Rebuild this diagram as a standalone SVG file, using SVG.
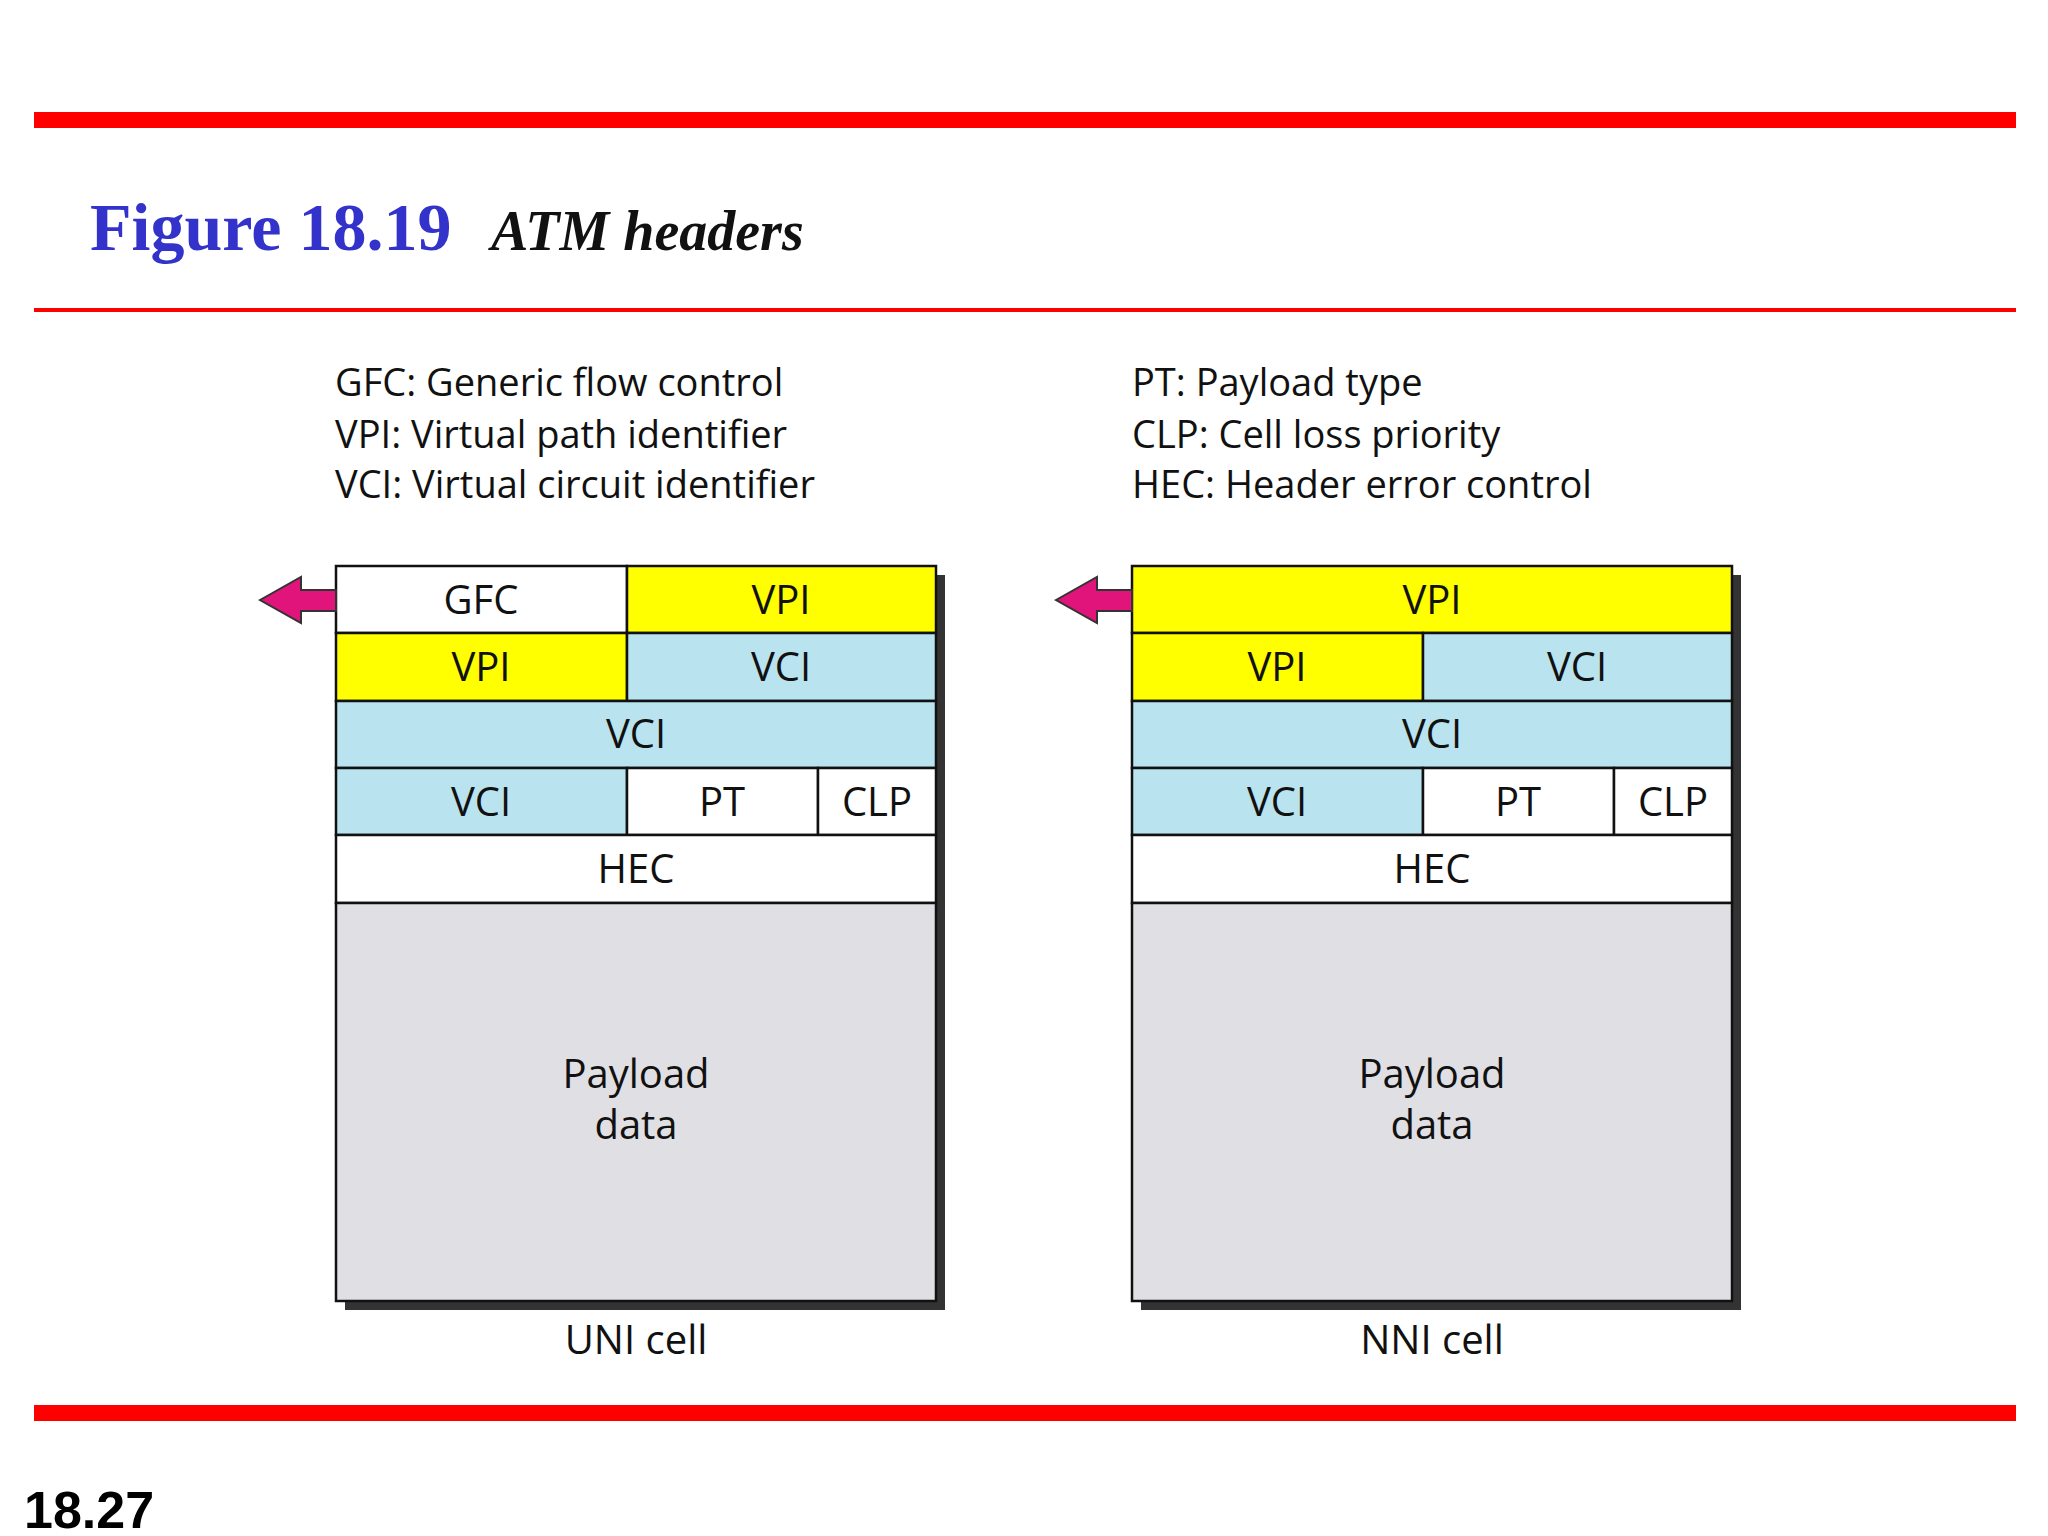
<svg xmlns="http://www.w3.org/2000/svg" width="2048" height="1536" viewBox="0 0 2048 1536">
<style>
.c{stroke:#111;stroke-width:2.5}
.w{fill:#fff}.y{fill:#ffff00}.b{fill:#b9e3ef}.g{fill:#e0dfe3}
.t{font-family:"Open Sans","Liberation Sans",sans-serif;font-size:40px;fill:#111;text-anchor:middle}
.l{font-family:"Open Sans","Liberation Sans",sans-serif;font-size:38px;fill:#111}
.ar{fill:#e0147a;stroke:#333;stroke-width:2}
</style>
<rect width="2048" height="1536" fill="#fff"/>
<rect x="34" y="112" width="1982" height="16" fill="#ff0000"/>
<rect x="34" y="308" width="1982" height="4" fill="#ff0000"/>
<rect x="34" y="1405" width="1982" height="16" fill="#ff0000"/>
<text x="90" y="250" font-family="Liberation Serif,serif" font-weight="bold" font-size="68" fill="#3333cc">Figure 18.19</text>
<text x="491" y="250" font-family="Liberation Serif,serif" font-weight="bold" font-style="italic" font-size="56" fill="#111">ATM headers</text>
<text x="24" y="1528" font-family="Liberation Sans,sans-serif" font-weight="bold" font-size="52" fill="#000">18.27</text>
<g id="legend-left" class="l"><text x="335" y="396">GFC: Generic flow control</text><text x="335" y="448">VPI: Virtual path identifier</text><text x="335" y="498">VCI: Virtual circuit identifier</text></g>
<g id="legend-right" class="l"><text x="1132" y="396">PT: Payload type</text><text x="1132" y="448">CLP: Cell loss priority</text><text x="1132" y="498">HEC: Header error control</text></g>
<g id="uni">
<rect x="345" y="575" width="600" height="735" fill="#333"/>
<rect class="c w" x="336" y="566" width="291" height="67"/><text class="t" x="481" y="614">GFC</text>
<rect class="c y" x="627" y="566" width="309" height="67"/><text class="t" x="781" y="614">VPI</text>
<rect class="c y" x="336" y="633" width="291" height="68"/><text class="t" x="481" y="681">VPI</text>
<rect class="c b" x="627" y="633" width="309" height="68"/><text class="t" x="781" y="681">VCI</text>
<rect class="c b" x="336" y="701" width="600" height="67"/><text class="t" x="636" y="748">VCI</text>
<rect class="c b" x="336" y="768" width="291" height="67"/><text class="t" x="481" y="816">VCI</text>
<rect class="c w" x="627" y="768" width="191" height="67"/><text class="t" x="722" y="816">PT</text>
<rect class="c w" x="818" y="768" width="118" height="67"/><text class="t" x="877" y="816">CLP</text>
<rect class="c w" x="336" y="835" width="600" height="68"/><text class="t" x="636" y="883">HEC</text>
<rect class="c g" x="336" y="903" width="600" height="398"/><text class="t" x="636" y="1088">Payload</text><text class="t" x="636" y="1139">data</text>
<text class="t" x="636" y="1354">UNI cell</text>
<polygon class="ar" points="260,600 301,577 301,590 336,590 336,611 301,611 301,623"/>
</g>
<g id="nni">
<rect x="1141" y="575" width="600" height="735" fill="#333"/>
<rect class="c y" x="1132" y="566" width="600" height="67"/><text class="t" x="1432" y="614">VPI</text>
<rect class="c y" x="1132" y="633" width="291" height="68"/><text class="t" x="1277" y="681">VPI</text>
<rect class="c b" x="1423" y="633" width="309" height="68"/><text class="t" x="1577" y="681">VCI</text>
<rect class="c b" x="1132" y="701" width="600" height="67"/><text class="t" x="1432" y="748">VCI</text>
<rect class="c b" x="1132" y="768" width="291" height="67"/><text class="t" x="1277" y="816">VCI</text>
<rect class="c w" x="1423" y="768" width="191" height="67"/><text class="t" x="1518" y="816">PT</text>
<rect class="c w" x="1614" y="768" width="118" height="67"/><text class="t" x="1673" y="816">CLP</text>
<rect class="c w" x="1132" y="835" width="600" height="68"/><text class="t" x="1432" y="883">HEC</text>
<rect class="c g" x="1132" y="903" width="600" height="398"/><text class="t" x="1432" y="1088">Payload</text><text class="t" x="1432" y="1139">data</text>
<text class="t" x="1432" y="1354">NNI cell</text>
<polygon class="ar" points="1056,600 1097,577 1097,590 1132,590 1132,611 1097,611 1097,623"/>
</g>
<g id="connectors"></g>
</svg>
